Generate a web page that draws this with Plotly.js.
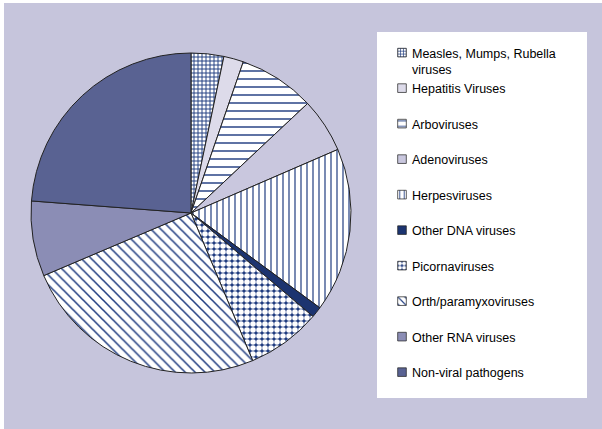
<!DOCTYPE html>
<html>
<head>
<meta charset="utf-8">
<script src="https://cdn.plot.ly/plotly-3.0.1.min.js"></script>
<style>
  html, body { margin: 0; padding: 0; background: #ffffff; overflow: hidden; }
  #chart { position: absolute; left: 4px; top: 3px; width: 598px; height: 426px; }
</style>
</head>
<body>
<div id="chart"></div>
<script>
// Categories (clockwise from 12 o'clock)
const labels = [
  "Measles, Mumps, Rubella<br>viruses",
  "Hepatitis Viruses",
  "Arboviruses",
  "Adenoviruses",
  "Herpesviruses",
  "Other DNA viruses",
  "Picornaviruses",
  "Orth/paramyxoviruses",
  "Other RNA viruses",
  "Non-viral pathogens"
];
// Share of cases (%)
const values = [3.3, 2.0, 7.7, 5.5, 16.6, 1.1, 7.5, 24.9, 7.6, 23.8];

const navy = "#203c80";
const colors   = ["#ffffff", "#dddbea", "#ffffff", "#c9c7de", "#ffffff", "#1c3470", "#ffffff", "#ffffff", "#8b8db5", "#596292"];
const shapes   = ["+", "", "-", "", "|", "", ".", "\\", "", ""];
const fgcolors = [navy, navy, navy, navy, navy, navy, "#ffffff", navy, navy, navy];
const bgcolors = ["#ffffff", "#dddbea", "#ffffff", "#c9c7de", "#ffffff", "#1c3470", navy, "#ffffff", "#8b8db5", "#596292"];
const sizes    = [4, 8, 8, 8, 6, 8, 6, 7, 8, 8];
const solid    = [0.42, 0.3, 0.18, 0.3, 0.2, 0.3, 0.68, 0.22, 0.3, 0.3];

// legend text: every entry takes two lines so the spacing matches
const legendLabels = labels.map(l => l.indexOf("<br>") >= 0 ? l : l + "<br>\u00a0");

const W = 598, H = 426;
const cx = 187, cy = 210, R = 160;

const trace = {
  type: "pie",
  labels: legendLabels,
  values: values,
  sort: false,
  direction: "clockwise",
  rotation: 0,
  textinfo: "none",
  hoverinfo: "label+percent",
  domain: { x: [(cx - R) / W, (cx + R) / W], y: [1 - (cy + R) / H, 1 - (cy - R) / H] },
  marker: {
    colors: colors,
    line: { color: "#222222", width: 1 },
    pattern: { shape: shapes, fgcolor: fgcolors, bgcolor: bgcolors, size: sizes, solidity: solid, fillmode: "replace" }
  }
};

const layout = {
  width: W, height: H,
  margin: { l: 0, r: 0, t: 0, b: 0 },
  paper_bgcolor: "#c6c5dc",
  showlegend: true,
  legend: {
    x: 368 / W, xanchor: "left",
    y: 1 - 35 / H, yanchor: "top",
    bgcolor: "rgba(0,0,0,0)",
    borderwidth: 0,
    valign: "top",
    font: { family: "Liberation Sans, Arial, sans-serif", size: 12.5, color: "#000000" }
  },
  shapes: [{
    type: "rect", xref: "paper", yref: "paper", layer: "below",
    x0: 373 / W, x1: 583 / W, y0: 1 - 395 / H, y1: 1 - 29 / H,
    fillcolor: "#ffffff", line: { width: 0 }
  }]
};

Plotly.newPlot("chart", [trace], layout, { displayModeBar: false, staticPlot: true }).then(gd => {
  // smaller legend keys sitting closer to their text, as in the original
  gd.querySelectorAll(".legend .legendpoints path").forEach(p => {
    p.setAttribute("transform", "translate(30,0) scale(0.72)");
  });
});
</script>
</body>
</html>
